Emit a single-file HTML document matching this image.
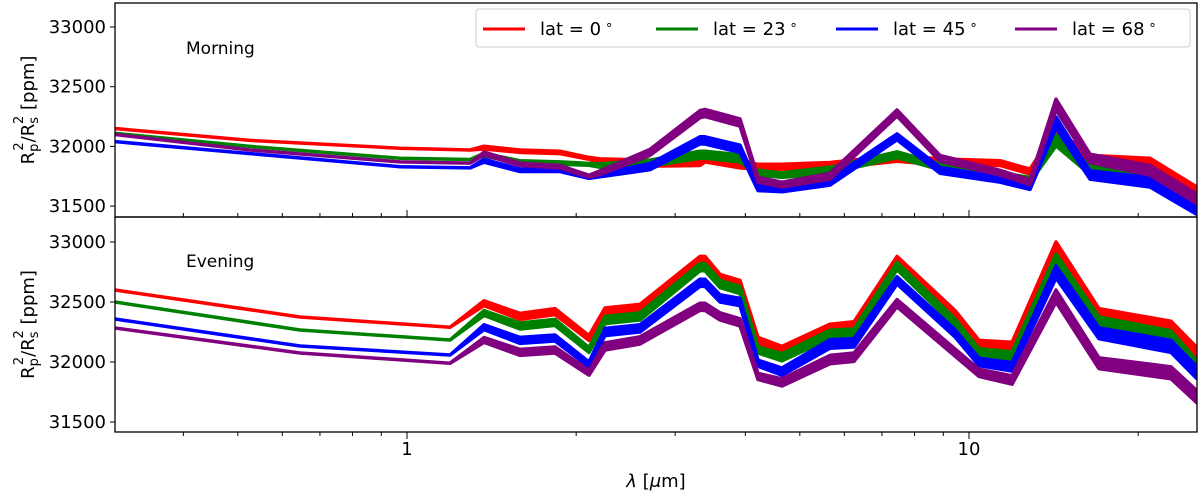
<!DOCTYPE html>
<html><head><meta charset="utf-8"><style>
body{margin:0;background:#fff;}
svg text{font-family:"DejaVu Sans","Liberation Sans",sans-serif;fill:#000;}
</style></head><body>
<svg id="chart" width="1200" height="495" viewBox="0 0 1200 495" xmlns="http://www.w3.org/2000/svg">
<g id="plots"></g>
<g id="axes"></g>
</svg>
<script>
// wavelengths (micron) for each panel
const wlTop = [0.302,0.526,0.972,1.295,1.371,1.589,1.872,2.108,2.205,2.706,3.322,3.39,3.913,4.212,4.648,5.656,7.445,8.88,11.36,12.84,14.28,16.42,20.99,25.45];
const redTop    = [32150,32050,31985,31970,31990,31960,31950,31900,31880,31860,31870,31900,31850,31830,31830,31840,31900,31870,31860,31790,32100,31890,31860,31620];
const greenTop  = [32110,32000,31900,31890,31930,31870,31860,31850,31840,31860,31930,31930,31900,31780,31760,31800,31930,31830,31760,31720,32050,31800,31740,31560];
const blueTop   = [32040,31940,31830,31820,31880,31800,31800,31740,31760,31830,32050,32050,31980,31650,31640,31700,32080,31800,31720,31660,32200,31760,31700,31470];
const purpleTop = [32100,31970,31870,31860,31940,31850,31830,31750,31780,31950,32270,32280,32200,31720,31680,31750,32280,31900,31780,31700,32350,31900,31800,31560];
const noiseTop  = [0,0,0,0,12,10,10,8,15,25,30,30,30,20,20,25,25,25,20,20,45,35,40,40];

const wlBot = [0.302,0.645,1.193,1.371,1.589,1.834,2.108,2.251,2.598,3.322,3.39,3.605,3.913,4.212,4.648,5.656,6.243,7.445,9.44,10.42,11.93,14.28,17.03,22.88,25.45];
const redBot    = [32600,32375,32290,32490,32380,32420,32200,32420,32450,32850,32850,32700,32650,32180,32100,32280,32300,32850,32400,32150,32130,32950,32400,32290,32070];
const greenBot  = [32500,32267,32183,32408,32300,32330,32100,32350,32380,32790,32790,32650,32600,32100,32040,32230,32240,32800,32330,32080,32050,32850,32330,32210,31960];
const blueBot   = [32358,32133,32058,32290,32180,32200,31980,32250,32280,32660,32660,32530,32500,31990,31920,32150,32160,32680,32240,32000,31960,32750,32240,32130,31910];
const purpleBot = [32283,32075,31990,32183,32080,32100,31910,32130,32180,32460,32460,32380,32330,31880,31830,32020,32040,32490,32080,31910,31850,32550,31990,31910,31710];
const noiseBot  = [0,0,0,20,25,25,20,30,30,30,30,30,30,25,30,35,35,30,30,30,35,50,45,50,50];

const yTicks = [31500,32000,32500,33000];
const xMajor = [1,10];
const xMinor = [0.4,0.5,0.6,0.7,0.8,0.9,2,3,4,5,6,7,8,9,20];
const seriesNames = ['lat = 0','lat = 23','lat = 45','lat = 68'];
const colors = ['#ff0000','#008000','#0000ff','#800080'];

const L=115,R=1197;
const xs = w => 407 + 562*Math.log10(w);
const panels = [
 {name:'morning',top:3,bot:217,y:v=>27+(33000-v)*59.7/500,wl:wlTop,data:[redTop,greenTop,blueTop,purpleTop],noise:noiseTop,label:'Morning',ly:54},
 {name:'evening',top:217,bot:432,y:v=>242+(33000-v)*60/500,wl:wlBot,data:[redBot,greenBot,blueBot,purpleBot],noise:noiseBot,label:'Evening',ly:267}
];
const NS='http://www.w3.org/2000/svg';
const plots=document.getElementById('plots'), axes=document.getElementById('axes');
function mk(tag,attrs,parent){const e=document.createElementNS(NS,tag);for(const k in attrs)e.setAttribute(k,attrs[k]);parent.appendChild(e);return e;}

panels.forEach(p=>{
  const cp=mk('clipPath',{id:'clip-'+p.name},plots);
  mk('rect',{x:L,y:p.top,width:R-L,height:p.bot-p.top},cp);
  const g=mk('g',{'clip-path':'url(#clip-'+p.name+')'},plots);
  p.data.forEach((vals,si)=>{
    let up='',dn='';
    vals.forEach((v,i)=>{up+=(i?'L':'M')+xs(p.wl[i]).toFixed(1)+','+p.y(v+p.noise[i]).toFixed(1);});
    for(let i=vals.length-1;i>=0;i--){dn+='L'+xs(p.wl[i]).toFixed(1)+','+p.y(vals[i]-p.noise[i]).toFixed(1);}
    const band=mk('path',{d:up+dn+'Z',fill:colors[si],stroke:colors[si],'stroke-width':3.5,'stroke-linejoin':'round'},g);
    
    
  });
  const fr=mk('rect',{x:L,y:p.top,width:R-L,height:p.bot-p.top,fill:'none',stroke:'#000','stroke-width':1.3},axes);
  
  
  yTicks.forEach(t=>{
    const y=p.y(t);
    mk('line',{x1:L-5,x2:L,y1:y,y2:y,stroke:'#000','stroke-width':1},axes);
    const tx=mk('text',{x:L-9,y:y+6,'text-anchor':'end','font-size':18},axes);
    tx.textContent=t;
    
    
  });
  const yl=mk('text',{x:0,y:0,'font-size':18,'text-anchor':'middle',transform:'translate(34,'+((p.top+p.bot)/2)+') rotate(-90)'},axes);
  yl.innerHTML='R<tspan baseline-shift="-30%" font-size="13">p</tspan><tspan dy="-11" font-size="13" dx="-7">2</tspan><tspan dy="11">/R</tspan><tspan baseline-shift="-30%" font-size="13">s</tspan><tspan dy="-11" font-size="13" dx="-7">2</tspan><tspan dy="11"> [ppm]</tspan>';
  
  
  const pl=mk('text',{x:186,y:p.ly,'font-size':17},axes);
  pl.textContent=p.label;
  
  
  xMajor.forEach(w=>{const x=xs(w);mk('line',{x1:x,x2:x,y1:p.bot,y2:p.bot+(p.name==='evening'?7:-7),stroke:'#000','stroke-width':1},axes);});
  xMinor.forEach(w=>{const x=xs(w);mk('line',{x1:x,x2:x,y1:p.bot,y2:p.bot+(p.name==='evening'?4:-4),stroke:'#000','stroke-width':1},axes);});
});
xMajor.forEach(w=>{
  const t=mk('text',{x:xs(w),y:455,'text-anchor':'middle','font-size':18},axes);
  t.textContent=w;
  
  
});
const xl=mk('text',{x:656,y:487,'text-anchor':'middle','font-size':18},axes);
xl.innerHTML='<tspan font-style="italic">λ</tspan> [<tspan font-style="italic">μ</tspan>m]';



// legend
const lg=mk('g',{},axes);


mk('rect',{x:476,y:9,width:714,height:38,rx:3,fill:'#fff','fill-opacity':0.85,stroke:'#ccc','stroke-width':1},lg);
const lx=[483,656,836,1015];
seriesNames.forEach((n,i)=>{
  const e=mk('g',{},lg);
  
  
  mk('line',{x1:lx[i],x2:lx[i]+42,y1:29,y2:29,stroke:colors[i],'stroke-width':3},e);
  const t=mk('text',{x:lx[i]+57,y:35,'font-size':18},e);
  t.innerHTML=n+'<tspan dx="4" font-size="13" dy="-6">∘</tspan>';
});
</script>
</body></html>
